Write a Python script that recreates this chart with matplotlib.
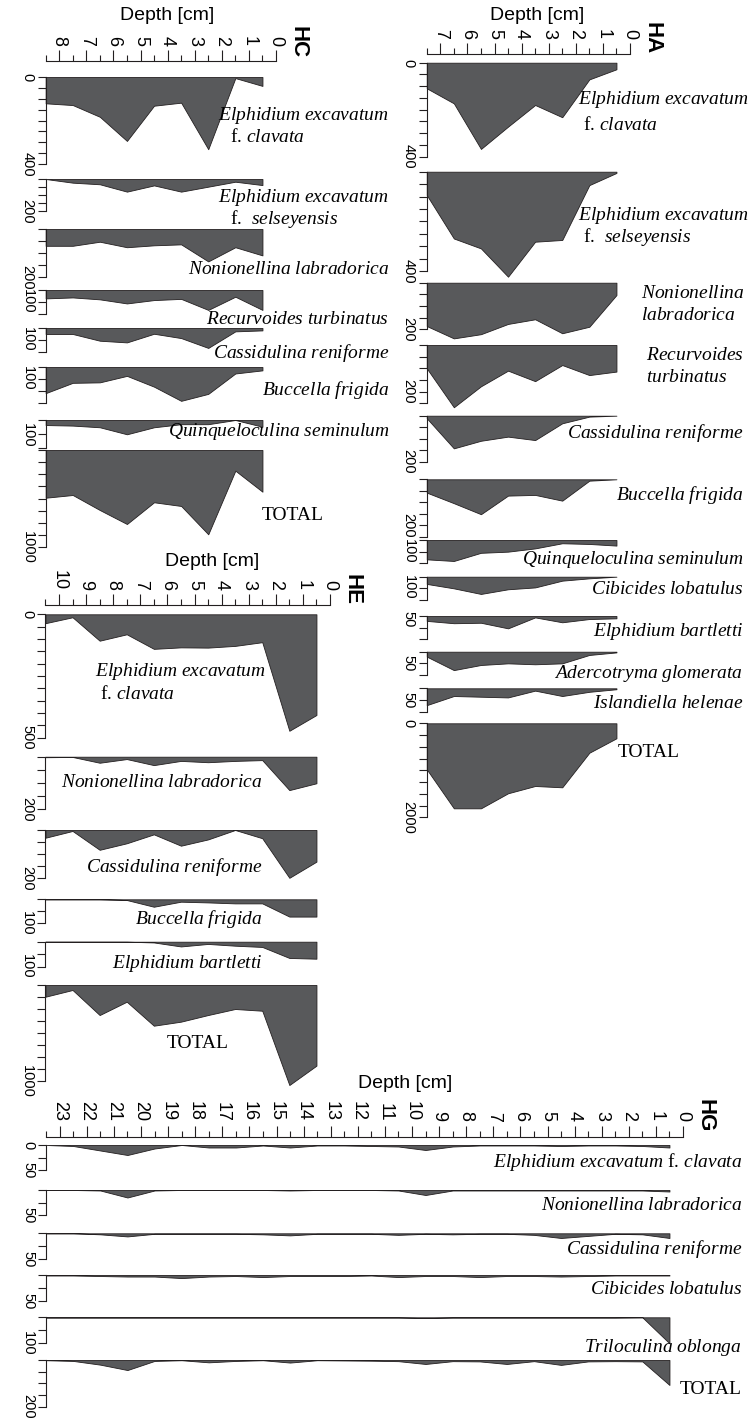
import matplotlib
matplotlib.use('Agg')
import matplotlib.pyplot as plt
from matplotlib.ticker import MultipleLocator
import numpy as np

plt.rcParams['font.family'] = ['Liberation Sans', 'DejaVu Sans']
plt.rcParams['mathtext.fontset'] = 'custom'
plt.rcParams['mathtext.rm'] = 'Liberation Serif'
plt.rcParams['mathtext.it'] = 'Liberation Serif:italic'

# figure in pixels (saved at dpi 100)
W, H = 748, 1420
FILL = '#58595b'
INK = '#231f20'
CM_PX = 27.1  # pixels per cm of core depth (same in all panels)

# ---------------- data (abundance per sample, depth ascending) ----------------
HC_DEPTH = [0.5, 1.5, 2.5, 3.5, 4.5, 5.5, 6.5, 7.5, 8.5]
HC_E_CLAVATA = [41, 5, 332, 118, 132, 294, 183, 129, 121]
HC_E_SELSEY = [38, 17, 48, 79, 40, 79, 33, 23, 0]
HC_N_LABRAD = [110, 76, 135, 64, 68, 76, 53, 70, 70]
HC_R_TURBIN = [83, 28, 83, 37, 42, 56, 39, 31, 35]
HC_C_RENIF = [10, 14, 83, 42, 24, 60, 53, 25, 25]
HC_B_FRIGIDA = [14, 27, 112, 141, 82, 37, 64, 66, 109]
HC_Q_SEMIN = [24, 0, 15, 15, 26, 51, 26, 20, 18]
HC_TOTAL = [430, 213, 869, 577, 539, 763, 619, 464, 492]

HA_DEPTH = [0.5, 1.5, 2.5, 3.5, 4.5, 5.5, 6.5, 7.5]
HA_E_CLAVATA = [28, 71, 232, 180, 272, 367, 173, 109]
HA_E_SELSEY = [5, 54, 275, 282, 423, 309, 269, 94]
HA_N_LABRAD = [53, 189, 217, 157, 177, 221, 239, 186]
HA_R_TURBIN = [114, 129, 86, 155, 110, 177, 267, 100]
HA_C_RENIF = [0, 4, 33, 106, 91, 109, 142, 11]
HA_B_FRIGIDA = [0, 6, 93, 68, 71, 152, 104, 58]
HA_Q_SEMIN = [24, 17, 14, 36, 50, 55, 90, 83]
HA_C_LOBAT = [0, 7, 17, 46, 54, 74, 50, 31]
HA_E_BARTL = [10, 13, 27, 6, 53, 29, 31, 21]
HA_A_GLOMER = [3, 14, 50, 54, 50, 57, 79, 21]
HA_I_HELEN = [4, 15, 33, 10, 39, 36, 33, 72]
HA_TOTAL = [319, 626, 1362, 1334, 1489, 1809, 1809, 979]

HE_DEPTH = [0.5, 1.5, 2.5, 3.5, 4.5, 5.5, 6.5, 7.5, 8.5, 9.5, 10.5]
HE_E_CLAVATA = [408, 472, 113, 128, 135, 134, 140, 81, 107, 12, 36]
HE_N_LABRAD = [101, 127, 13, 16, 21, 16, 32, 9, 23, 1, 2]
HE_C_RENIF = [131, 198, 34, 0, 39, 65, 18, 55, 82, 4, 32]
HE_B_FRIGIDA = [72, 72, 17, 17, 13, 10, 31, 3, 0, 0, 0]
HE_E_BARTL = [68, 65, 21, 16, 9, 19, 3, 0, 0, 0, 0]
HE_TOTAL = [840, 1042, 268, 250, 313, 382, 424, 174, 313, 52, 122]

HG_DEPTH = [0.5, 1.5, 2.5, 3.5, 4.5, 5.5, 6.5, 7.5, 8.5, 9.5, 10.5, 11.5,
            12.5, 13.5, 14.5, 15.5, 16.5, 17.5, 18.5, 19.5, 20.5, 21.5, 22.5, 23.5]
HG_E_CLAVATA = [5, 2, 1, 1, 2, 1, 1, 1, 3, 10, 3, 2, 1, 1, 5, 1, 5, 5, 0, 7, 20, 11, 2, 0]
HG_N_LABRAD = [3, 1, 1, 1, 1, 1, 1, 1, 1, 10, 1, 0, 0, 0, 1, 0, 0, 0, 0, 1, 15, 1, 0, 0]
HG_C_RENIF = [9, 2, 1, 5, 9, 3, 1, 1, 2, 1, 3, 1, 1, 1, 4, 2, 1, 1, 1, 1, 6, 2, 0, 0]
HG_C_LOBAT = [1, 1, 1, 2, 3, 2, 2, 4, 2, 2, 4, 1, 2, 2, 2, 4, 2, 3, 6, 3, 3, 2, 1, 1]
HG_T_OBLONGA = [100, 0, 1, 1, 1, 1, 1, 1, 1, 3, 1, 1, 1, 1, 1, 1, 1, 1, 1, 1, 1, 1, 1, 1]
HG_TOTAL = [107, 6, 5, 6, 21, 5, 17, 6, 5, 17, 5, 3, 2, 1, 11, 1, 4, 10, 1, 4, 43, 20, 4, 1]


def it(s):
    return r'$\mathit{' + s.replace(' ', r'\ ') + '}$'


E_EXC = it('Elphidium excavatum')
F_CLAV = 'f. ' + it('clavata')
F_SELS = 'f.  ' + it('selseyensis')
N_LAB = it('Nonionellina labradorica')
R_TURB = it('Recurvoides turbinatus')
C_REN = it('Cassidulina reniforme')
B_FRIG = it('Buccella frigida')
Q_SEM = it('Quinqueloculina seminulum')
C_LOB = it('Cibicides lobatulus')
E_BART = it('Elphidium bartletti')
A_GLOM = it('Adercotryma glomerata')
I_HEL = it('Islandiella helenae')
T_OBL = it('Triloculina oblonga')

# ---------------- layout (pixels from top-left) ----------------
# strip: (values, y max, tick step, labelled ticks, top px, bottom px, label va)
CORES = [
    dict(name='HC', depth=HC_DEPTH, dmax=8.5, zero_x=276, ruler_y=61,
         title_xy=(167, 15), name_xy=(298, 42),
         strips=[(HC_E_CLAVATA, 400, 50, [0, 400], 77, 164, 'center'),
                 (HC_E_SELSEY, 200, 50, [200], 179, 211, 'center'),
                 (HC_N_LABRAD, 200, 50, [200], 229, 277, 'center'),
                 (HC_R_TURBIN, 100, 50, [100], 290, 314, 'bottom'),
                 (HC_C_RENIF, 100, 50, [100], 328, 352, 'bottom'),
                 (HC_B_FRIGIDA, 150, 50, [100], 367, 403, 'bottom'),
                 (HC_Q_SEMIN, 100, 50, [100], 420, 448, 'bottom'),
                 (HC_TOTAL, 1000, 125, [1000], 450, 547, 'center')],
         labels=[(E_EXC, 389, 115, 'right'), (F_CLAV, 230, 137, 'left'),
                 (E_EXC, 389, 197, 'right'), (F_SELS, 230, 219, 'left'),
                 (N_LAB, 389, 270, 'right'), (R_TURB, 389, 320, 'right'),
                 (C_REN, 389, 353, 'right'), (B_FRIG, 389, 390, 'right'),
                 (Q_SEM, 389, 432, 'right'), ('TOTAL', 262, 515, 'left')]),
    dict(name='HA', depth=HA_DEPTH, dmax=7.5, zero_x=630, ruler_y=54,
         title_xy=(537, 15), name_xy=(652, 38),
         strips=[(HA_E_CLAVATA, 400, 50, [0, 400], 62.7, 156.7, 'center'),
                 (HA_E_SELSEY, 400, 50, [400], 171.7, 271, 'center'),
                 (HA_N_LABRAD, 200, 50, [200], 282.7, 329.3, 'center'),
                 (HA_R_TURBIN, 250, 50, [200], 345, 403.3, 'center'),
                 (HA_C_RENIF, 200, 50, [200], 415.7, 461.7, 'center'),
                 (HA_B_FRIGIDA, 250, 50, [200], 479.3, 536.7, 'center'),
                 (HA_Q_SEMIN, 100, 50, [100], 540, 563.3, 'bottom'),
                 (HA_C_LOBAT, 100, 50, [100], 576.7, 600, 'bottom'),
                 (HA_E_BARTL, 100, 50, [50], 616, 639.3, 'bottom'),
                 (HA_A_GLOMER, 100, 50, [50], 651.7, 675, 'center'),
                 (HA_I_HELEN, 100, 50, [50], 688.3, 711.7, 'center'),
                 (HA_TOTAL, 2000, 250, [0, 2000], 723.3, 817.3, 'center')],
         labels=[(E_EXC, 578, 100, 'left'), (F_CLAV, 583, 125, 'left'),
                 (E_EXC, 578, 216, 'left'), (F_SELS, 583, 237, 'left'),
                 (it('Nonionellina'), 641, 293, 'left'), (it('labradorica'), 641, 315, 'left'),
                 (it('Recurvoides'), 646, 355, 'left'), (it('turbinatus'), 646, 377, 'left'),
                 (C_REN, 743, 433, 'right'), (B_FRIG, 743, 495, 'right'),
                 (Q_SEM, 743, 560, 'right'), (C_LOB, 743, 590, 'right'),
                 (E_BART, 743, 631, 'right'), (A_GLOM, 743, 674, 'right'),
                 (I_HEL, 743, 703, 'right'), ('TOTAL', 618, 753, 'left')]),
    dict(name='HE', depth=HE_DEPTH, dmax=10.5, zero_x=330, ruler_y=605,
         title_xy=(212, 562), name_xy=(352, 589),
         strips=[(HE_E_CLAVATA, 500, 50, [0, 500], 614.3, 737.7, 'center'),
                 (HE_N_LABRAD, 200, 50, [200], 756.7, 809.3, 'center'),
                 (HE_C_RENIF, 200, 50, [200], 830, 878.3, 'center'),
                 (HE_B_FRIGIDA, 100, 50, [100], 899.3, 923.3, 'center'),
                 (HE_E_BARTL, 100, 50, [100], 941.7, 966.7, 'center'),
                 (HE_TOTAL, 1000, 125, [1000], 985, 1081, 'center')],
         labels=[(E_EXC, 95, 672, 'left'), (F_CLAV, 100, 694, 'left'),
                 (N_LAB, 262, 782, 'right'), (C_REN, 262, 867, 'right'),
                 (B_FRIG, 262, 919, 'right'), (E_BART, 262, 963, 'right'),
                 ('TOTAL', 167, 1043, 'left')]),
    dict(name='HG', depth=HG_DEPTH, dmax=23.5, zero_x=683, ruler_y=1136.7,
         title_xy=(405, 1083), name_xy=(705, 1116),
         strips=[(HG_E_CLAVATA, 50, 25, [0, 50], 1145, 1170, 'center'),
                 (HG_N_LABRAD, 50, 25, [50], 1190, 1215, 'center'),
                 (HG_C_RENIF, 50, 25, [50], 1233.3, 1259.3, 'center'),
                 (HG_C_LOBAT, 50, 25, [50], 1275, 1300.7, 'center'),
                 (HG_T_OBLONGA, 100, 50, [100], 1317.3, 1343.3, 'center'),
                 (HG_TOTAL, 200, 50, [200], 1360, 1406.7, 'center')],
         labels=[(E_EXC + ' f. ' + it('clavata'), 742, 1162, 'right'),
                 (N_LAB, 742, 1205, 'right'), (C_REN, 742, 1249, 'right'),
                 (C_LOB, 742, 1290, 'right'), (T_OBL, 742, 1348, 'right'),
                 ('TOTAL', 742, 1390, 'right')]),
]


def px_axes(fig, left, top, width, height):
    return fig.add_axes([left / W, 1 - (top + height) / H, width / W, height / H])


def fig_xy(x, y):
    return x / W, 1 - y / H


def draw_ruler(fig, core):
    dmax, zero_x = core['dmax'], core['zero_x']
    ax = px_axes(fig, zero_x - dmax * CM_PX, core['ruler_y'], dmax * CM_PX, 2)
    ax.set_xlim(dmax, 0)
    ax.set_ylim(0, 1)
    for s in ['left', 'right', 'bottom']:
        ax.spines[s].set_visible(False)
    ax.spines['top'].set_linewidth(0.8)
    ax.spines['top'].set_color(INK)
    ax.xaxis.tick_top()
    major = list(range(int(dmax) + 1))
    ax.set_xticks(major)
    ax.set_xticklabels([str(m) for m in major], rotation=-90)
    ax.xaxis.set_minor_locator(MultipleLocator(0.5))
    ax.tick_params(axis='x', which='major', direction='out', length=8,
                   width=0.8, color=INK, labelsize=13, pad=3)
    ax.tick_params(axis='x', which='minor', direction='out', length=4,
                   width=0.8, color=INK)
    ax.set_yticks([])
    ax.patch.set_visible(False)

    fig.text(*fig_xy(*core['title_xy']), 'Depth [cm]', ha='center', va='center',
             fontsize=14)
    fig.text(*fig_xy(*core['name_xy']), core['name'], ha='center', va='center',
             rotation=-90, fontsize=16, fontweight='bold')


def draw_strip(fig, core, strip):
    values, ymax, step, labelled, top, bottom, va = strip
    dmax, zero_x = core['dmax'], core['zero_x']
    ax = px_axes(fig, zero_x - dmax * CM_PX, top, dmax * CM_PX, bottom - top)
    ax.fill_between(core['depth'], 0, values, facecolor=FILL, edgecolor=INK,
                    linewidth=0.6, clip_on=False)
    ax.set_xlim(dmax, 0)
    ax.set_ylim(ymax, 0)
    for s in ['top', 'right', 'bottom']:
        ax.spines[s].set_visible(False)
    ax.spines['left'].set_linewidth(0.8)
    ax.spines['left'].set_color(INK)
    ticks = np.arange(0, ymax + step / 2, step)
    ax.set_yticks(ticks)
    ax.set_yticklabels([f'{t:g}' if t in labelled else '' for t in ticks],
                       rotation=-90, va=va)
    ax.tick_params(axis='y', direction='out', length=6, width=0.8, color=INK,
                   labelsize=10.5, pad=2)
    ax.set_xticks([])
    ax.patch.set_visible(False)


fig = plt.figure(figsize=(W / 100, H / 100), dpi=100)

for core in CORES:
    draw_ruler(fig, core)
    for strip in core['strips']:
        draw_strip(fig, core, strip)
    for text, x, y, ha in core['labels']:
        fig.text(*fig_xy(x, y), text, ha=ha, va='center', fontsize=14,
                 family='Liberation Serif')

fig.savefig('out.png', dpi=100)
